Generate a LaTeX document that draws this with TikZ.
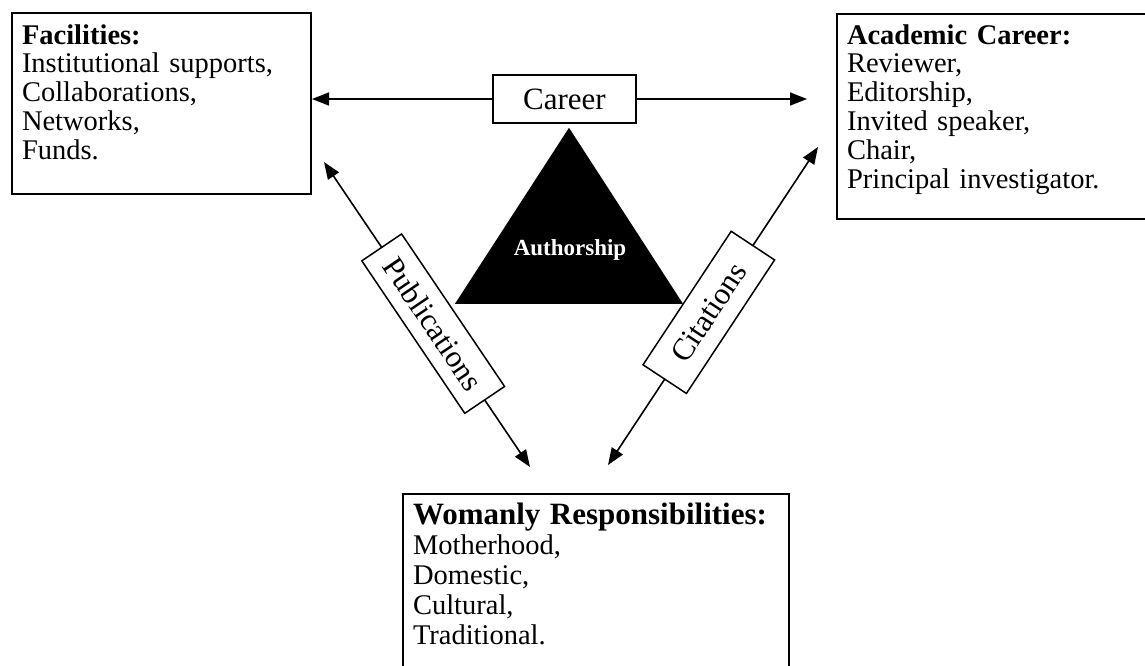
\documentclass[tikz,border=0pt]{standalone}
\usepackage{fontspec}
\setmainfont{Liberation Serif}
\usetikzlibrary{arrows.meta,positioning,calc}

\begin{document}
\begin{tikzpicture}[
    x=1pt, y=-1pt,
    panel/.style={draw, line width=2pt, anchor=north west, align=left, inner xsep=10pt, inner ysep=0pt, font=\fontsize{28.5}{28.8}\selectfont},
    tag/.style={draw, fill=white, line width=1.5pt, inner sep=0pt, font=\fontsize{31}{31}\selectfont},
    arrow/.style={-{Triangle[length=17pt, width=13pt]}, line width=1.6pt},
    twoway/.style={{Triangle[length=17pt, width=13pt]}-{Triangle[length=17pt, width=13pt]}, line width=1.6pt}
]
    \useasboundingbox (0,0) rectangle (1145,665);
    \clip (0,0) rectangle (1145,665);

    % Outer boxes
    \node[panel, text width=279pt, text height=31pt, text depth=150pt] (fac) at (11,12) {\textbf{Facilities:}\\Institutional supports,\\Collaborations,\\Networks,\\Funds.};

    \node[panel, text width=294pt, text height=30pt, text depth=175pt] (acad) at (836,13) {\textbf{Academic Career:}\\Reviewer,\\Editorship,\\Invited speaker,\\Chair,\\Principal investigator.};

    \node[panel, text width=366pt, text height=30pt, text depth=149pt, font=\fontsize{28.5}{30}\selectfont] (wom) at (402,493) {{\fontsize{31}{30}\selectfont\bfseries Womanly Responsibilities:}\\Motherhood,\\Domestic,\\Cultural,\\Traditional.};

    % Career box and triangle
    \node[tag, minimum width=143pt, minimum height=48pt] (career) at (564.5,99) {Career};

    \coordinate[below=4pt of career.south, xshift=4.5pt] (apex);
    \fill (apex) -- ($(apex)+(-114,176)$) -- ($(apex)+(114,176)$) -- cycle;
    \node[text=white, font=\fontsize{23}{23}\selectfont\bfseries] (auth) at ($(apex)+(1,122)$) {Authorship};

    % Arrows
    \draw[arrow] (career.west) -- (career.west -| fac.east);
    \draw[arrow] (career.east) -- ([xshift=-29pt]career.east -| acad.west);

    \coordinate (pubA) at ($(fac.south east)+(12,-33)$);
    \coordinate (pubB) at ($(wom.north west)+(128,-26)$);
    \draw[twoway] (pubA) -- node[tag, sloped, pos=0.53, minimum width=184pt, minimum height=48pt] (pub) {Publications} (pubB);

    \coordinate (citA) at ($(wom.north west)+(206,-28)$);
    \coordinate (citB) at ($(acad.south west)+(-18,-73)$);
    \draw[twoway] (citA) -- node[tag, sloped, pos=0.48, minimum width=160pt, minimum height=52pt] (cit) {Citations} (citB);
\end{tikzpicture}
\end{document}
